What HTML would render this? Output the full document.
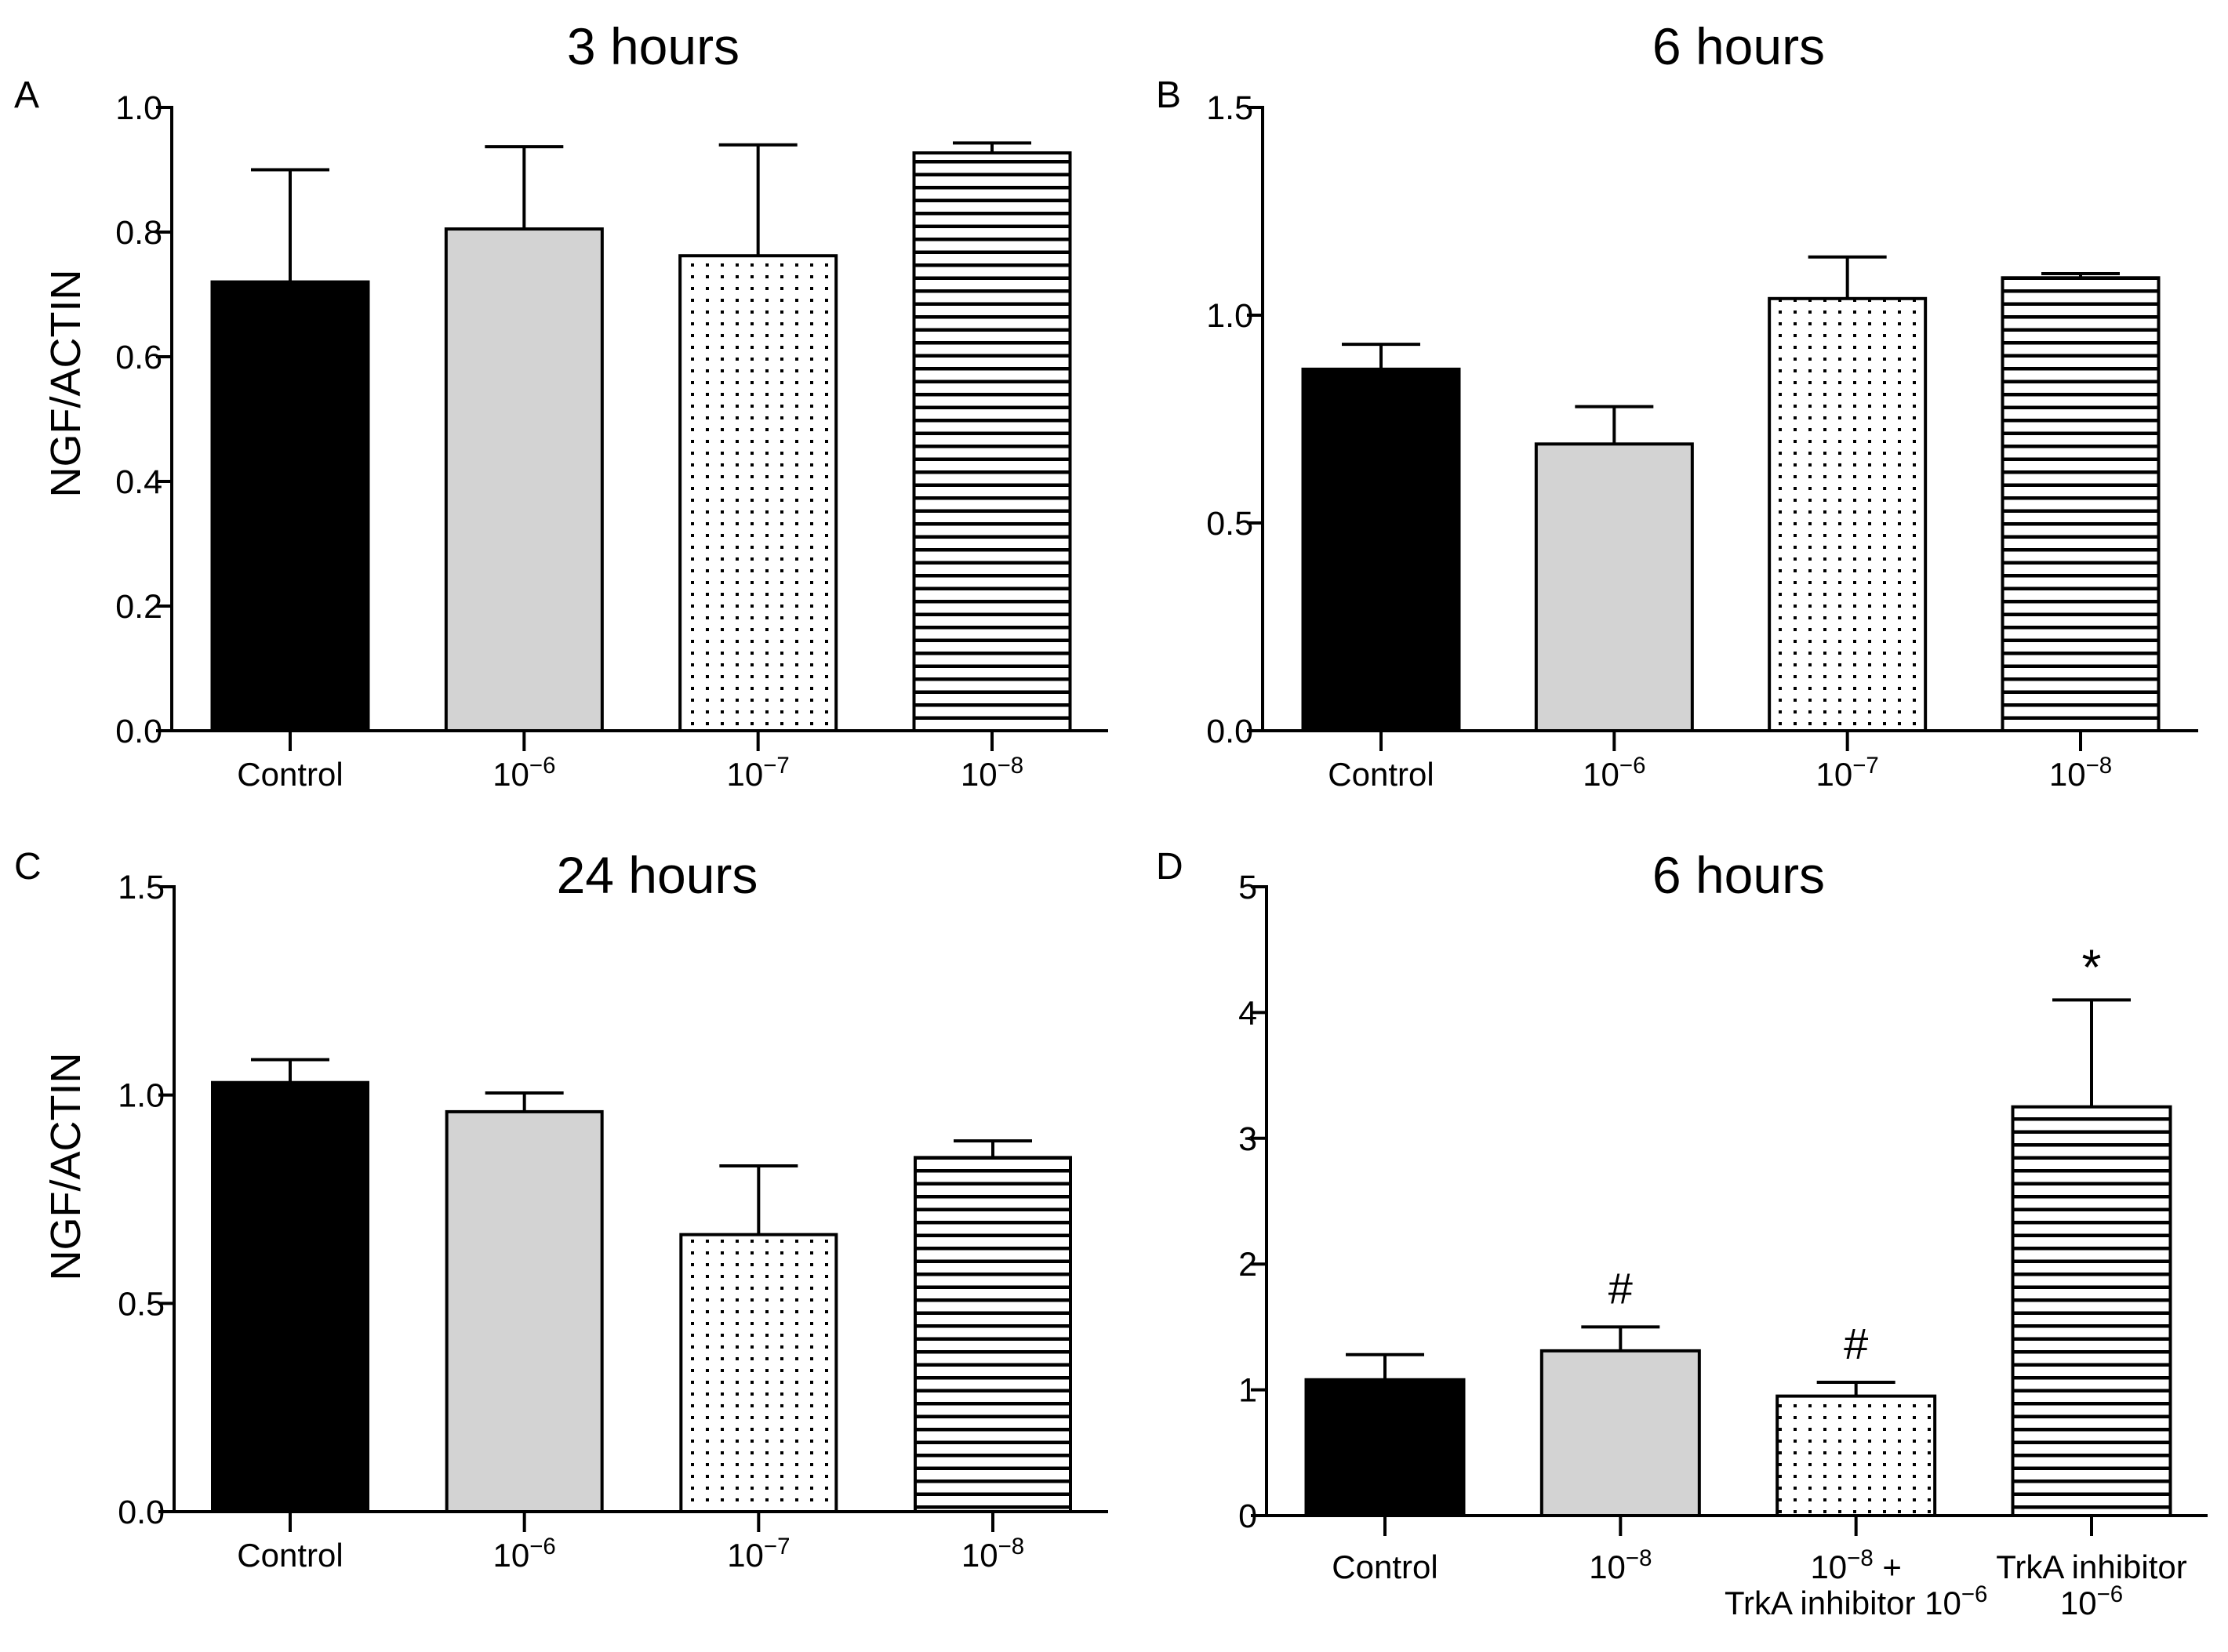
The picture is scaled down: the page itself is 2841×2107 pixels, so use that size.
<!DOCTYPE html>
<html><head><meta charset="utf-8"><style>
html,body{margin:0;padding:0;background:#fff;}
svg{display:block;font-family:"Liberation Sans",Arial,sans-serif;}
</style></head><body>
<svg id="fig" width="2841" height="2107" viewBox="0 0 2841 2107" xmlns="http://www.w3.org/2000/svg">
<defs>
<pattern id="dots" width="19" height="15" patternUnits="userSpaceOnUse"><rect x="7" y="6" width="4" height="4" fill="#000"/></pattern>
<pattern id="stripes" width="20" height="16.5" patternUnits="userSpaceOnUse"><rect x="0" y="6" width="20" height="4.5" fill="#000"/></pattern>
</defs>
</svg>
<script>
// Panel A: 3 hours
const catsA = ["Control","10^-6","10^-7","10^-8"];
const valsA = [0.72, 0.805, 0.762, 0.927];
const errA = [0.90, 0.937, 0.94, 0.943];
const ticksA = [0.0, 0.2, 0.4, 0.6, 0.8, 1.0];
// Panel B: 6 hours
const catsB = ["Control","10^-6","10^-7","10^-8"];
const valsB = [0.87, 0.69, 1.04, 1.09];
const errB = [0.93, 0.78, 1.14, 1.10];
const ticksB = [0.0, 0.5, 1.0, 1.5];
// Panel C: 24 hours
const catsC = ["Control","10^-6","10^-7","10^-8"];
const valsC = [1.03, 0.96, 0.665, 0.85];
const errC = [1.085, 1.005, 0.83, 0.89];
const ticksC = [0.0, 0.5, 1.0, 1.5];
// Panel D: 6 hours with TrkA inhibitor
const catsD = ["Control","10^-8","10^-8 +|TrkA inhibitor 10^-6","TrkA inhibitor|10^-6"];
const valsD = [1.08, 1.31, 0.95, 3.25];
const errD = [1.28, 1.50, 1.06, 4.10];
const ticksD = [0, 1, 2, 3, 4, 5];
const marksD = ["", "#", "#", "*"];

const NS = "http://www.w3.org/2000/svg";
const svg = document.getElementById("fig");
const fills = ["#000", "#d3d3d3", "url(#dots)", "url(#stripes)"];

function mk(tag, attrs, parent) {
  const e = document.createElementNS(NS, tag);
  for (const k in attrs) e.setAttribute(k, attrs[k]);
  (parent || svg).appendChild(e);
  return e;
}
function addLabelText(t, s) {
  const parts = s.split(/(\^-?\d+)/);
  let sup = false;
  parts.forEach(p => {
    if (!p) return;
    if (p[0] === "^") {
      const ts = mk("tspan", {"baseline-shift": "super", "font-size": "0.7em"}, t);
      ts.textContent = p.slice(1).replace("-", "\u2212");
      sup = true;
    } else {
      const ts = mk("tspan", sup ? {"baseline-shift": "0"} : {}, t);
      ts.textContent = p;
    }
  });
}

function panel(p) {
  const g = mk("g", {});
  
  
  const yS = v => p.y0 - (v - p.ticks[0]) / (p.ticks[p.ticks.length - 1] - p.ticks[0]) * (p.y0 - p.yTop);
  const n = p.cats.length;
  const xS = i => p.xFirst + i * (p.xLast - p.xFirst) / (n - 1);
  const tt = mk("text", {x: p.titleX, y: p.titleY, "font-size": 66, "text-anchor": "middle"}, g);
  tt.textContent = p.title;
  
  
  const lt = mk("text", {x: p.letterX, y: p.letterY, "font-size": 48}, g);
  lt.textContent = p.letter;
  
  
  if (p.ylabel) {
    const yl = mk("text", {x: 0, y: 0, "font-size": 54, "text-anchor": "middle",
      transform: `translate(${p.ylx},${p.yly}) rotate(-90)`}, g);
    yl.textContent = p.ylabel;
    
    
  }
  p.vals.forEach((v, i) => {
    const cx = xS(i);
    const top = yS(v);
    const bar = mk("rect", {x: cx - p.bw / 2, y: top, width: p.bw, height: p.y0 - top,
      fill: fills[i], stroke: "#000", "stroke-width": 4}, g);
    
    
    const et = yS(p.errs[i]);
    const eb = mk("path", {d: `M${cx},${top} V${et} M${cx - 50},${et} H${cx + 50}`, stroke: "#000", "stroke-width": 4, fill: "none"}, g);
    
    
    if (p.marks && p.marks[i]) {
      const m = mk("text", {x: cx, y: et - (p.marks[i] === "*" ? 20 : 30), "font-size": p.marks[i] === "*" ? 64 : 56, "text-anchor": "middle"}, g);
      m.textContent = p.marks[i];
      
      
    }
    const xt = mk("line", {x1: cx, x2: cx, y1: p.y0, y2: p.y0 + 26, stroke: "#000", "stroke-width": 4}, g);
    
    
    const lines = p.cats[i].split("|");
    lines.forEach((ln, k) => {
      const t = mk("text", {x: cx, y: p.y0 + p.lblOff + k * 46, "font-size": 42, "text-anchor": "middle"}, g);
      addLabelText(t, ln);
      
      
    });
  });
  const ya = mk("line", {x1: p.ax, x2: p.ax, y1: p.yTop - 2, y2: p.y0 + 2, stroke: "#000", "stroke-width": 4}, g);
  
  
  const xa = mk("line", {x1: p.ax - 20, x2: p.xEnd, y1: p.y0, y2: p.y0, stroke: "#000", "stroke-width": 4}, g);
  
  
  p.ticks.forEach(v => {
    const y = yS(v);
    const tk = mk("line", {x1: p.ax - 20, x2: p.ax, y1: y, y2: y, stroke: "#000", "stroke-width": 4}, g);
    
    
    const tl = mk("text", {x: p.ax - 12, y: y + 15, "font-size": 43, "text-anchor": "end"}, g);
    tl.textContent = p.dec ? v.toFixed(1) : String(v);
    
    
  });
}

panel({name: "panel-a", title: "3 hours", letter: "A", cats: catsA, vals: valsA, errs: errA, ticks: ticksA, dec: true,
  ax: 219, y0: 932, yTop: 137, xFirst: 370, xLast: 1265, bw: 199, xEnd: 1413, lblOff: 70,
  titleX: 833, titleY: 82, letterX: 18, letterY: 137, ylabel: "NGF/ACTIN", ylx: 102, yly: 489});
panel({name: "panel-b", title: "6 hours", letter: "B", cats: catsB, vals: valsB, errs: errB, ticks: ticksB, dec: true,
  ax: 1610, y0: 932, yTop: 137, xFirst: 1761, xLast: 2653, bw: 199, xEnd: 2803, lblOff: 70,
  titleX: 2217, titleY: 82, letterX: 1474, letterY: 137});
panel({name: "panel-c", title: "24 hours", letter: "C", cats: catsC, vals: valsC, errs: errC, ticks: ticksC, dec: true,
  ax: 222, y0: 1928, yTop: 1131, xFirst: 370, xLast: 1266, bw: 198, xEnd: 1413, lblOff: 70,
  titleX: 838, titleY: 1139, letterX: 18, letterY: 1121, ylabel: "NGF/ACTIN", ylx: 102, yly: 1488});
panel({name: "panel-d", title: "6 hours", letter: "D", cats: catsD, vals: valsD, errs: errD, ticks: ticksD, dec: false,
  ax: 1615, y0: 1933, yTop: 1131, xFirst: 1766, xLast: 2667, bw: 201, xEnd: 2815, lblOff: 80,
  titleX: 2217, titleY: 1139, letterX: 1474, letterY: 1121, marks: marksD});
</script>
</body></html>
